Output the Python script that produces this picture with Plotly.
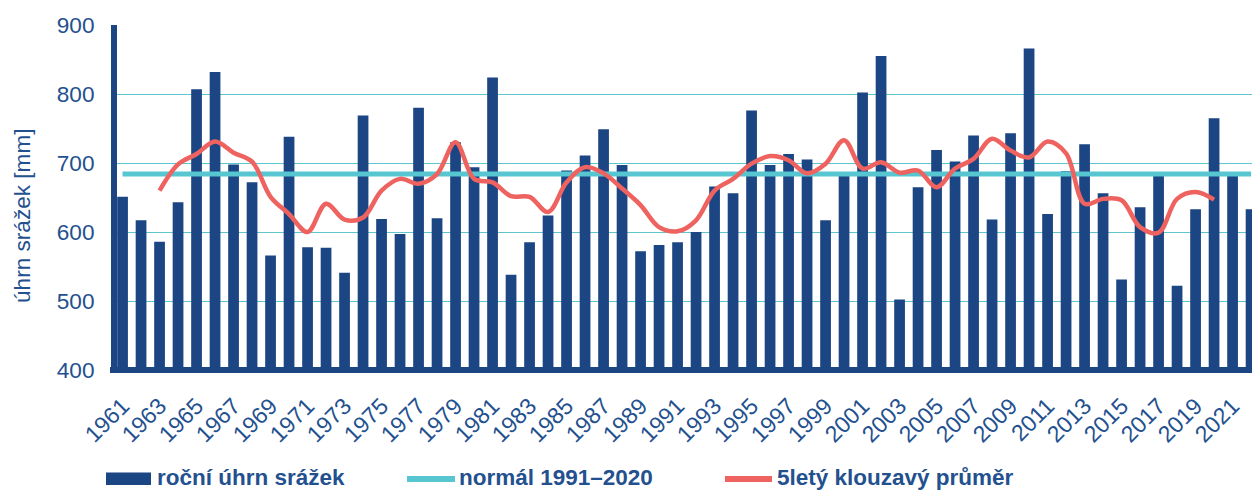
import plotly.graph_objects as go

# Annual precipitation totals (mm), 1961–2022
YEARS = list(range(1961, 2023))
ANNUAL_TOTAL = [
    651, 617, 586, 643, 807, 832, 698, 672, 566, 738,
    578, 577, 541, 769, 619, 597, 780, 620, 730, 694,
    824, 538, 585, 624, 689, 711, 749, 697, 572, 581,
    585, 600, 666, 656, 776, 697, 713, 705, 617, 681,
    802, 855, 502, 665, 719, 702, 740, 618, 743, 866,
    626, 688, 727, 656, 531, 636, 681, 522, 633, 765,
    681, 633,
]

# Climatological normal 1991–2020 (mm)
NORMAL_1991_2020 = 684

# 5-year moving average, centred (1963–2020)
MA_YEARS = list(range(1963, 2021))
MA_VALUES = [
    660, 698, 713, 731, 715, 702, 651, 626, 600, 641,
    618, 621, 660, 677, 670, 684, 730, 677, 672, 652,
    651, 629, 672, 694, 685, 663, 639, 607, 601, 617,
    660, 677, 699, 710, 704, 685, 699, 733, 692, 701,
    686, 689, 665, 692, 706, 735, 718, 708, 731, 714,
    641, 648, 646, 607, 599, 648, 658, 647,
]

TICK_YEARS = YEARS[::2]
TICK_TEXT = [str(y) for y in TICK_YEARS]
Y_TICKS = [400, 500, 600, 700, 800, 900]
Y_MIN, Y_MAX = 400, 900

NAME_BARS = "roční úhrn srážek"
NAME_NORMAL = "normál 1991–2020"
NAME_MA = "5letý klouzavý průměr"
Y_TITLE = "úhrn srážek [mm]"

BAR_COLOR = "#1B4583"
NORMAL_COLOR = "#57C6D1"
MA_COLOR = "#EE6360"
GRID_COLOR = "#5EC4CE"
TEXT_COLOR = "#23508E"
FONT = "Liberation Sans, Arial, sans-serif"

W, H = 1252, 490
ML, MR, MT, MB = 117, 0, 25, 120
PW, PH = W - ML - MR, H - MT - MB


def px_x(px):
    return (px - ML) / PW


def px_y(py):
    return (H - MB - py) / PH


fig = go.Figure()

fig.add_trace(go.Bar(
    x=YEARS, y=ANNUAL_TOTAL, name=NAME_BARS,
    marker=dict(color=BAR_COLOR, line=dict(width=0)),
    showlegend=False,
))

fig.add_trace(go.Scatter(
    x=[YEARS[0], YEARS[-1]], y=[NORMAL_1991_2020, NORMAL_1991_2020],
    mode="lines", name=NAME_NORMAL,
    line=dict(color=NORMAL_COLOR, width=5),
    showlegend=False,
))

fig.add_trace(go.Scatter(
    x=MA_YEARS, y=MA_VALUES, mode="lines", name=NAME_MA,
    line=dict(color=MA_COLOR, width=4.5, shape="spline", smoothing=1.0),
    showlegend=False,
))

shapes = []
annotations = []

# Heavy baseline along the bottom of the plot (category axis line),
# centred on the lowest value of the y axis
shapes.append(dict(
    type="line", xref="paper", yref="paper",
    x0=px_x(110), x1=1, y0=0, y1=0,
    line=dict(color=BAR_COLOR, width=6), layer="above",
))

# Legend row drawn beneath the axis labels
legend_y = 478.5
legend_items = [
    dict(kind="rect", x0=106, x1=151, text=NAME_BARS, tx=155, color=BAR_COLOR),
    dict(kind="line", x0=407, x1=455, text=NAME_NORMAL, tx=457, color=NORMAL_COLOR),
    dict(kind="line", x0=725, x1=772, text=NAME_MA, tx=775, color=MA_COLOR),
]
for item in legend_items:
    if item["kind"] == "rect":
        shapes.append(dict(
            type="rect", xref="paper", yref="paper",
            x0=px_x(item["x0"]), x1=px_x(item["x1"]),
            y0=px_y(legend_y + 6.5), y1=px_y(legend_y - 6),
            fillcolor=item["color"], line=dict(width=0),
        ))
    else:
        shapes.append(dict(
            type="line", xref="paper", yref="paper",
            x0=px_x(item["x0"]), x1=px_x(item["x1"]),
            y0=px_y(legend_y + 0.5), y1=px_y(legend_y + 0.5),
            line=dict(color=item["color"], width=6),
        ))
    annotations.append(dict(
        text="<b>" + item["text"] + "</b>", xref="paper", yref="paper",
        x=px_x(item["tx"]), y=px_y(legend_y - 1),
        xanchor="left", yanchor="middle", showarrow=False,
        font=dict(family=FONT, size=22.5, color=TEXT_COLOR),
    ))

# Y axis title
annotations.append(dict(
    text=Y_TITLE, xref="paper", yref="paper",
    x=px_x(22.5), y=px_y(215.5), textangle=-90,
    xanchor="center", yanchor="middle", showarrow=False,
    font=dict(family=FONT, size=22.6, color=TEXT_COLOR),
))

fig.update_layout(
    width=W, height=H,
    margin=dict(l=ML, r=MR, t=MT, b=MB, pad=0),
    paper_bgcolor="white", plot_bgcolor="white",
    bargap=0.42,
    showlegend=False,
    font=dict(family=FONT, color=TEXT_COLOR),
    shapes=shapes,
    annotations=annotations,
    xaxis=dict(
        range=[1960.70, 2022.05],
        tickmode="array", tickvals=TICK_YEARS, ticktext=TICK_TEXT,
        tickangle=-45, tickfont=dict(family=FONT, size=23, color=TEXT_COLOR),
        showgrid=False, zeroline=False, ticks="",
        showline=False,
        ticklabelstandoff=17,
    ),
    yaxis=dict(
        range=[Y_MIN, Y_MAX],
        tickmode="array", tickvals=Y_TICKS,
        tickfont=dict(family=FONT, size=22.6, color=TEXT_COLOR),
        showgrid=True, gridcolor=GRID_COLOR, gridwidth=1,
        zeroline=False, ticks="",
        showline=True, linewidth=6, linecolor=BAR_COLOR,
        ticklabelstandoff=12,
    ),
)

fig.write_html("out.html")
